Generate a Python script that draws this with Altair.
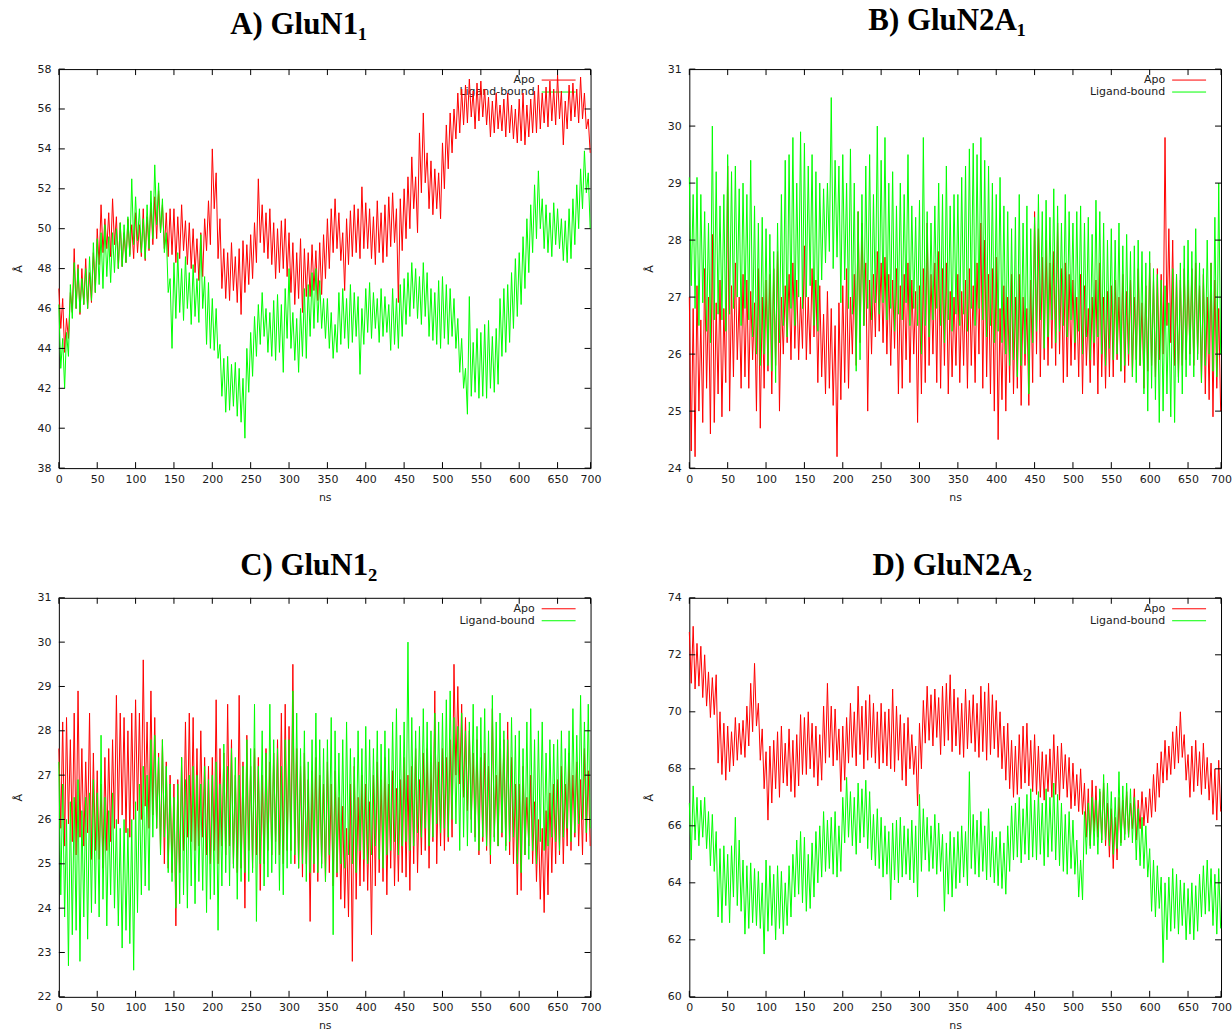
import altair as alt
import pandas as pd

# ---------------- data (hi/lo envelope every 5 ns) -------------
STEP = 5.0
X_END = 693
X_TICKS = [0, 50, 100, 150, 200, 250, 300, 350, 400, 450, 500, 550, 600, 650, 693]
X_LAST_LABEL = "700"

A_TITLE = "A) GluN1\u2081"
B_TITLE = "B) GluN2A\u2081"
C_TITLE = "C) GluN1\u2082"
D_TITLE = "D) GluN2A\u2082"
SERIES = ["Apo", "Ligand-bound"]

A_APO_HI = [47.0, 46.5, 45.5, 46.8, 49.0, 48.2, 48.0, 48.5, 47.8, 48.8,
            50.0, 51.2, 50.5, 50.8, 51.5, 50.6, 50.3, 49.8, 50.5, 50.2,
            50.8, 50.2, 51.0, 50.6, 51.3, 51.6, 51.9, 51.2, 50.8, 51.0,
            51.0, 50.6, 51.2, 50.4, 50.3, 50.0, 49.5, 49.8, 50.5, 51.4,
            54.0, 52.8, 50.5, 49.0, 48.8, 49.3, 48.6, 49.0, 49.4, 49.2,
            49.7, 50.3, 52.5, 51.2, 50.8, 51.0, 50.3, 50.0, 50.4, 50.5,
            49.8, 49.3, 48.8, 49.5, 49.0, 48.8, 49.2, 48.9, 49.3, 49.7,
            50.5, 51.0, 51.5, 50.8, 49.8, 50.5, 50.9, 51.2, 51.0, 52.1,
            51.3, 51.0, 50.6, 51.4, 50.8, 51.2, 51.6, 51.8, 51.0, 51.5,
            52.0, 52.6, 53.6, 52.6, 54.8, 55.8, 53.8, 53.4, 53.0, 52.8,
            54.3, 55.2, 55.8, 56.0, 56.8, 57.0, 57.2, 57.5, 56.9, 57.3,
            57.4, 57.0, 56.6, 56.4, 56.8, 56.2, 56.5, 56.8, 56.2, 56.0,
            56.5, 56.8, 56.2, 56.5, 56.9, 57.2, 56.8, 57.1, 57.4, 57.0,
            57.7, 56.9, 56.4, 57.2, 57.3, 57.0, 57.6, 56.8, 55.5]
A_APO_LO = [45.0, 43.8, 44.5, 45.8, 46.0, 45.7, 46.2, 46.0, 46.3, 46.8,
            48.2, 48.8, 49.0, 48.6, 49.2, 48.0, 48.1, 48.3, 48.7, 48.5,
            48.8, 48.6, 48.4, 48.9, 49.2, 49.5, 49.8, 49.0, 48.6, 48.7,
            48.3, 48.5, 48.9, 48.2, 48.0, 47.8, 47.4, 47.6, 48.9, 49.2,
            51.0, 48.5, 47.0, 46.5, 46.4, 46.9, 46.3, 45.7, 46.8, 47.2,
            47.5, 48.3, 49.3, 48.8, 48.5, 48.2, 47.5, 47.8, 48.0, 47.6,
            46.8, 46.2, 46.5, 45.8, 46.6, 46.6, 46.9, 46.4, 46.7, 47.5,
            48.0, 48.8, 49.0, 48.4, 46.9, 48.2, 48.6, 48.8, 48.5, 49.0,
            49.0, 48.5, 48.2, 48.8, 48.3, 48.6, 49.1, 49.3, 46.3, 48.9,
            49.5, 50.0, 51.0, 49.8, 51.8, 52.3, 51.0, 50.7, 51.0, 50.5,
            52.0, 53.0, 53.8, 54.5, 54.8, 55.2, 55.3, 55.6, 55.0, 55.4,
            55.6, 55.2, 54.6, 54.8, 55.0, 54.9, 54.6, 54.8, 54.5, 54.3,
            54.4, 54.2, 54.6, 54.8, 54.8, 55.0, 55.3, 55.1, 55.4, 55.2,
            55.5, 54.2, 55.0, 55.4, 55.6, 55.3, 55.5, 55.0, 53.8]
A_LIG_HI = [46.2, 44.5, 44.8, 47.2, 48.3, 48.0, 47.5, 48.0, 48.6, 49.3,
            49.5, 49.8, 50.2, 49.6, 49.8, 50.0, 50.3, 50.2, 50.6, 52.5,
            51.6, 51.0, 50.5, 51.2, 51.9, 53.2, 52.3, 51.5, 49.8, 47.5,
            48.3, 48.8, 48.0, 48.6, 47.8, 48.2, 47.5, 49.7, 47.6, 47.3,
            46.5, 46.0, 44.2, 43.5, 43.6, 43.2, 43.3, 43.0, 42.5, 44.0,
            44.8, 45.6, 46.2, 46.8, 46.0, 45.8, 46.4, 46.7, 46.2, 47.0,
            48.0, 45.8, 45.5, 46.0, 47.0, 47.2, 47.8, 48.0, 47.4, 46.5,
            46.5, 45.8, 45.2, 46.8, 47.0, 46.5, 47.2, 46.8, 46.6, 46.0,
            47.0, 47.3, 46.8, 46.5, 47.0, 46.6, 46.2, 47.0, 46.5, 47.2,
            47.5, 47.8, 48.3, 48.0, 47.6, 48.3, 47.8, 47.0, 46.8, 47.4,
            47.6, 47.2, 47.0, 46.5, 45.5, 44.5, 43.0, 46.6, 44.3, 45.0,
            44.8, 45.2, 45.4, 44.6, 45.0, 46.5, 47.0, 47.2, 47.8, 48.5,
            48.8, 49.6, 50.5, 51.2, 52.2, 52.9, 51.5, 51.2, 50.8, 51.3,
            51.0, 50.5, 50.4, 51.0, 51.5, 52.2, 53.0, 53.9, 52.8]
A_LIG_LO = [43.0, 42.0, 43.6, 45.5, 46.0, 45.8, 46.2, 46.0, 46.4, 46.8,
            47.2, 47.0, 47.6, 47.3, 47.8, 48.0, 48.1, 48.3, 48.6, 49.2,
            49.4, 48.8, 48.5, 49.0, 49.5, 50.2, 49.8, 48.8, 46.8, 44.0,
            45.5, 45.8, 45.4, 46.0, 45.2, 45.6, 45.3, 46.0, 44.2, 44.0,
            43.9, 43.5, 41.6, 40.8, 40.9, 41.1, 40.6, 40.3, 39.5, 41.8,
            42.6, 43.6, 44.2, 44.6, 43.8, 43.6, 43.4, 43.8, 42.8, 44.5,
            44.0, 43.4, 42.8, 43.6, 43.5, 44.6, 45.0, 45.3, 45.0, 44.5,
            44.0, 43.5, 43.8, 44.2, 44.5, 44.0, 44.3, 44.6, 42.7, 44.2,
            44.8, 44.5, 45.0, 44.3, 44.6, 44.8, 43.9, 44.2, 44.0, 44.6,
            45.2, 45.6, 46.0, 45.5, 45.2, 45.6, 44.6, 44.4, 44.2, 44.0,
            44.5, 44.2, 44.6, 44.0, 42.8, 42.0, 40.7, 41.6, 41.8, 41.5,
            41.6, 41.5, 42.0, 41.8, 42.2, 43.6, 43.8, 44.3, 45.0, 45.6,
            46.2, 47.0, 47.8, 48.8, 49.5, 50.0, 49.0, 48.8, 48.6, 49.2,
            49.0, 48.4, 48.3, 48.5, 49.2, 50.0, 51.0, 51.8, 50.0]

B_APO_HI = [27.0, 26.8, 27.2, 26.6, 27.5, 27.0, 28.1, 26.9, 27.3, 26.8,
            29.3, 27.2, 27.6, 27.0, 27.4, 27.3, 27.1, 26.9, 27.5, 27.0,
            27.3, 27.4, 27.5, 27.8, 27.0, 27.2, 27.4, 27.6, 27.3, 27.0,
            27.9, 27.0, 27.5, 27.3, 27.2, 26.7, 27.1, 26.8, 26.5, 26.9,
            27.2, 27.5, 27.0, 27.4, 28.5, 28.3, 27.6, 27.3, 27.4, 27.8,
            27.6, 27.7, 27.4, 27.3, 27.5, 27.2, 27.4, 27.6, 27.3, 27.1,
            27.2, 27.5, 28.3, 27.4, 27.6, 27.8, 27.5, 27.6, 27.1, 27.0,
            27.4, 27.1, 27.3, 27.5, 27.2, 27.6, 28.3, 28.0, 27.4, 27.5,
            27.7, 26.8, 27.2, 27.0, 27.4, 27.0, 27.4, 27.0, 26.8, 27.3,
            28.5, 28.2, 27.7, 28.0, 27.6, 27.8, 28.3, 27.5, 27.6, 27.4,
            27.3, 27.0, 27.4, 27.2, 26.8, 27.0, 27.3, 27.6, 27.0, 27.1,
            27.2, 27.3, 27.0, 27.4, 27.1, 27.3, 27.0, 27.5, 26.9, 27.2,
            27.6, 27.3, 27.5, 27.4, 29.8, 28.2, 28.0, 27.4, 27.3, 27.5,
            27.3, 27.5, 27.6, 27.2, 27.4, 27.0, 27.6, 27.3, 26.8]
B_APO_LO = [24.3, 24.2, 25.0, 24.8, 25.4, 24.6, 24.8, 25.3, 24.9, 25.5,
            25.0, 25.6, 25.9, 25.4, 25.6, 25.4, 25.9, 25.0, 24.7, 25.4,
            25.7, 25.3, 25.8, 25.0, 26.0, 26.2, 25.9, 26.1, 25.9, 26.1,
            25.9, 26.0, 26.3, 25.5, 25.6, 25.3, 25.4, 25.1, 24.2, 25.2,
            25.5, 25.4, 26.0, 25.8, 26.2, 26.5, 25.0, 26.0, 26.3, 26.4,
            26.2, 26.0, 25.8, 26.1, 25.3, 25.4, 25.9, 25.5, 26.0, 24.8,
            25.3, 25.5, 25.8, 26.0, 25.5, 25.4, 25.8, 25.3, 25.6, 25.8,
            25.5, 25.8, 25.4, 25.8, 25.5, 26.0, 25.4, 25.6, 25.3, 25.0,
            24.5, 25.2, 25.0, 25.5, 25.3, 25.4, 25.1, 25.8, 25.1, 25.5,
            26.0, 25.6, 25.9, 25.8, 26.1, 25.8, 26.0, 25.5, 25.6, 25.8,
            25.9, 25.6, 25.3, 25.8, 25.5, 25.8, 25.3, 25.6, 25.4, 25.6,
            25.6, 25.9, 25.7, 25.5, 25.8, 25.6, 25.9, 25.8, 25.4, 25.7,
            25.8, 25.6, 25.9, 26.0, 26.5, 26.2, 25.8, 25.6, 25.8, 25.9,
            26.0, 25.8, 26.0, 25.5, 25.3, 25.2, 24.9, 25.4, 25.0]
B_LIG_HI = [29.1, 28.8, 29.1, 28.8, 28.5, 28.3, 30.0, 29.2, 28.6, 28.8,
            29.5, 29.2, 29.3, 28.9, 29.0, 28.8, 29.4, 28.6, 28.3, 28.4,
            28.2, 28.1, 27.8, 28.3, 28.8, 29.4, 29.5, 29.8, 29.0, 29.9,
            29.7, 29.3, 29.5, 29.2, 29.0, 28.9, 29.0, 30.5, 29.4, 29.3,
            29.5, 29.0, 29.6, 29.0, 28.5, 28.8, 29.3, 29.5, 28.8, 30.0,
            29.4, 29.8, 29.0, 29.2, 28.6, 29.0, 28.8, 29.5, 28.6, 28.4,
            28.7, 29.8, 28.5, 28.3, 28.6, 29.0, 28.8, 29.3, 28.6, 28.8,
            28.8, 29.1, 29.3, 29.6, 29.7, 29.5, 29.8, 29.4, 29.3, 29.0,
            28.8, 29.1, 28.6, 28.5, 28.2, 28.4, 28.8, 28.3, 28.6, 28.2,
            28.4, 28.8, 28.5, 28.7, 28.4, 28.9, 28.6, 28.3, 28.8, 28.5,
            28.3, 28.5, 28.6, 28.3, 28.4, 28.1, 28.7, 28.5, 28.3, 28.0,
            28.2, 28.0, 28.3, 27.9, 28.1, 27.8, 27.9, 28.0, 27.8, 27.6,
            27.8, 27.5, 27.4, 27.3, 27.2, 26.9, 27.5, 27.4, 27.6, 27.9,
            28.0, 27.8, 28.2, 27.6, 27.5, 28.0, 27.6, 28.4, 29.0]
B_LIG_LO = [27.2, 26.8, 26.5, 26.9, 26.4, 26.2, 26.6, 26.7, 26.6, 26.4,
            26.7, 26.8, 27.0, 26.5, 26.8, 26.6, 26.3, 26.0, 25.8, 26.0,
            25.8, 25.7, 25.5, 26.2, 26.5, 26.3, 26.8, 26.5, 27.0, 26.8,
            27.0, 27.2, 26.5, 26.4, 27.3, 27.6, 27.8, 27.5, 27.7, 26.9,
            27.3, 26.8, 26.7, 25.7, 25.9, 26.5, 26.8, 26.6, 26.9, 26.7,
            26.9, 26.6, 26.8, 26.4, 26.7, 26.6, 26.9, 26.5, 26.8, 26.5,
            26.0, 26.5, 26.3, 26.6, 26.8, 26.5, 26.2, 26.6, 26.4, 26.7,
            26.5, 26.7, 26.4, 26.8, 26.5, 26.8, 26.6, 26.3, 26.5, 26.2,
            26.4, 26.2, 26.0, 25.8, 25.9, 25.6, 25.8, 26.0, 25.3, 26.2,
            26.4, 26.6, 26.1, 26.3, 26.6, 26.2, 26.4, 26.5, 26.3, 26.6,
            26.2, 26.4, 26.0, 26.3, 25.9, 26.2, 26.3, 26.0, 25.8, 26.1,
            25.9, 26.0, 25.7, 25.8, 26.0, 25.6, 25.5, 25.8, 25.3, 25.0,
            25.4, 25.2, 24.8, 25.0, 25.3, 24.9, 24.8, 25.5, 25.3, 25.6,
            25.8, 25.6, 25.9, 25.5, 25.8, 26.0, 25.7, 25.6, 26.0]

C_APO_HI = [27.6, 28.2, 28.3, 27.8, 28.4, 28.9, 27.6, 27.3, 28.4, 27.5,
            27.1, 26.8, 27.4, 27.6, 27.8, 28.8, 28.4, 28.3, 28.0, 28.4,
            28.7, 28.4, 29.6, 28.2, 28.9, 28.3, 27.5, 27.8, 27.3, 27.0,
            26.8, 26.9, 27.4, 28.2, 28.4, 28.3, 27.6, 28.0, 27.4, 27.2,
            27.4, 28.7, 27.6, 27.5, 28.6, 27.8, 27.0, 28.8, 27.3, 27.9,
            27.2, 27.6, 27.4, 27.0, 27.6, 27.3, 27.5, 27.8, 28.4, 28.6,
            28.1, 29.5, 27.6, 27.2, 27.5, 26.9, 27.1, 27.4, 27.0, 26.8,
            27.3, 26.8, 27.1, 26.5, 26.3, 25.8, 26.8, 27.2, 26.5, 27.0,
            26.8, 26.4, 27.0, 27.3, 26.9, 27.4, 26.8, 27.1, 26.7, 26.9,
            27.4, 27.0, 27.2, 27.6, 26.9, 27.5, 27.6, 27.3, 28.9, 27.3,
            27.6, 27.4, 27.8, 29.5, 29.0, 28.6, 28.3, 28.0, 27.5, 27.8,
            27.4, 27.5, 27.2, 28.5, 27.0, 27.6, 27.8, 28.2, 27.4, 26.8,
            26.8, 27.2, 26.5, 27.0, 26.4, 26.0, 25.8, 26.2, 26.6, 26.8,
            26.9, 27.2, 26.8, 27.5, 27.0, 27.3, 26.9, 27.6, 27.1]
C_APO_LO = [25.8, 25.4, 25.9, 25.5, 25.2, 25.6, 25.4, 25.7, 25.1, 25.3,
            25.1, 24.9, 25.3, 25.5, 25.8, 25.9, 26.1, 25.7, 25.6, 26.0,
            26.2, 26.0, 26.3, 25.8, 26.1, 25.8, 25.3, 25.0, 24.9, 24.8,
            23.6, 24.8, 25.3, 25.6, 25.5, 25.3, 25.4, 25.6, 25.2, 25.0,
            25.3, 25.0, 25.4, 25.2, 25.4, 25.0, 24.8, 24.9, 24.0, 25.3,
            24.9, 25.2, 24.4, 25.0, 25.3, 25.2, 25.5, 25.2, 25.0, 25.3,
            25.3, 25.0, 24.9, 24.7, 25.0, 23.7, 24.8, 24.6, 25.0, 24.6,
            24.8, 24.5, 24.7, 24.2, 24.0, 23.8, 22.8, 24.2, 24.5, 24.6,
            24.4, 23.4, 24.5, 24.8, 24.6, 24.3, 24.9, 24.5, 24.6, 24.8,
            24.7, 24.4, 25.0, 24.8, 25.2, 25.3, 24.9, 25.5, 25.0, 25.4,
            25.3, 25.5, 25.6, 27.0, 26.8, 26.5, 26.2, 26.0, 25.6, 25.2,
            25.5, 25.3, 25.0, 25.6, 25.4, 25.6, 25.4, 25.2, 25.0, 24.3,
            24.4, 25.2, 25.4, 25.0, 24.6, 24.2, 23.9, 24.3, 24.8, 25.0,
            25.2, 25.0, 25.4, 25.3, 25.6, 25.4, 25.2, 25.5, 25.4]
C_LIG_HI = [27.3, 26.8, 26.0, 26.4, 26.5, 26.9, 26.2, 26.5, 26.6, 26.9,
            26.6, 27.9, 26.5, 26.2, 26.6, 26.0, 25.8, 26.0, 25.8, 26.0,
            26.4, 26.8, 27.2, 27.0, 27.8, 27.9, 27.4, 27.8, 27.2, 26.8,
            26.5, 26.8, 27.4, 26.9, 27.0, 27.2, 27.0, 26.8, 27.2, 26.9,
            27.0, 27.3, 26.8, 27.7, 27.2, 27.6, 27.4, 27.0, 27.2, 27.8,
            27.6, 28.6, 27.2, 28.0, 27.5, 28.6, 27.8, 27.6, 27.2, 27.8,
            27.8, 28.9, 28.4, 27.6, 28.0, 27.3, 27.8, 28.4, 27.8, 27.6,
            27.8, 28.3, 28.0, 27.5, 27.8, 28.2, 27.6, 27.4, 28.0, 27.6,
            28.1, 27.8, 27.6, 28.0, 27.7, 28.0, 27.6, 28.2, 28.5, 27.9,
            28.2, 30.0, 28.3, 28.0, 28.1, 28.5, 28.2, 28.0, 28.4, 28.2,
            28.4, 28.7, 28.9, 28.3, 28.1, 28.4, 28.0, 28.2, 28.6, 28.1,
            28.3, 28.5, 28.0, 28.8, 28.2, 28.4, 28.0, 27.8, 28.3, 27.9,
            28.0, 27.6, 28.2, 28.5, 27.8, 28.0, 28.2, 27.5, 27.8, 27.7,
            27.8, 28.0, 27.6, 28.0, 28.5, 27.9, 28.8, 28.2, 28.6]
C_LIG_LO = [24.3, 23.8, 22.7, 23.4, 23.5, 22.8, 23.8, 23.3, 23.9, 24.1,
            23.8, 24.2, 23.6, 24.3, 24.0, 23.6, 23.1, 23.5, 23.2, 22.6,
            23.9, 24.3, 24.5, 24.4, 25.6, 25.8, 25.2, 25.6, 24.8, 24.6,
            24.0, 24.1, 24.3, 24.0, 24.5, 24.1, 24.6, 24.4, 23.9, 24.2,
            24.3, 23.5, 24.5, 24.8, 24.5, 24.9, 24.2, 24.6, 24.8, 24.6,
            24.8, 23.7, 25.0, 24.5, 24.7, 24.8, 25.0, 24.4, 24.3, 24.9,
            25.0, 25.2, 24.9, 25.0, 24.6, 24.8, 25.0, 24.8, 24.9, 24.6,
            25.2, 23.4, 24.8, 25.0, 24.9, 25.2, 25.0, 24.8, 25.3, 25.1,
            25.0, 25.2, 25.4, 25.1, 24.9, 25.2, 25.3, 25.5, 25.2, 25.4,
            25.5, 25.3, 25.4, 25.7, 25.6, 25.8, 25.4, 25.6, 25.9, 25.7,
            25.8, 25.6, 26.0, 25.9, 25.3, 25.6, 25.4, 25.7, 25.5, 25.3,
            25.6, 25.4, 25.2, 25.5, 25.4, 25.7, 25.3, 25.5, 25.6, 25.0,
            24.8, 25.2, 25.1, 25.3, 25.0, 25.5, 25.3, 25.4, 25.6, 25.5,
            25.3, 25.6, 25.8, 25.5, 25.7, 25.9, 26.0, 25.7, 25.8]

D_APO_HI = [72.8, 73.0, 72.4, 72.3, 72.0, 71.4, 71.2, 71.3, 70.0, 69.6,
            69.5, 69.3, 69.8, 69.6, 69.7, 70.2, 71.0, 71.7, 70.3, 69.4,
            68.6, 68.8, 69.0, 69.3, 69.5, 68.9, 69.4, 69.0, 69.2, 69.9,
            69.8, 70.0, 69.6, 69.5, 69.2, 70.2, 71.0, 70.2, 70.1, 69.4,
            69.5, 69.8, 70.3, 70.0, 70.9, 70.2, 70.4, 70.6, 70.3, 70.0,
            70.3, 70.0, 70.1, 70.8, 70.2, 69.9, 69.6, 69.8, 69.2, 68.8,
            69.6, 70.4, 70.9, 70.6, 70.8, 70.5, 70.9, 71.0, 71.3, 70.8,
            70.5, 70.3, 70.8, 70.4, 70.6, 70.3, 70.9, 70.7, 71.0, 70.6,
            70.4, 70.0, 69.5, 69.6, 69.0, 68.8, 69.2, 69.5, 69.6, 69.0,
            69.2, 68.8, 68.6, 68.5, 68.7, 69.2, 68.8, 68.9, 68.5, 68.4,
            68.2, 67.8, 68.0, 67.5, 67.3, 67.6, 67.4, 67.2, 67.5, 66.8,
            66.6, 66.3, 67.0, 66.9, 67.2, 66.8, 67.3, 66.9, 67.2, 67.0,
            67.3, 67.8, 68.2, 68.6, 69.0, 68.8, 69.3, 69.5, 70.0, 69.2,
            68.5, 68.8, 69.0, 68.6, 68.9, 68.4, 68.2, 68.0, 68.3]
D_APO_LO = [71.0, 70.8, 70.9, 70.5, 70.2, 69.8, 69.9, 68.2, 67.8, 67.6,
            67.9, 68.1, 68.3, 68.5, 68.4, 68.8, 69.3, 69.5, 68.3, 67.3,
            66.2, 66.8, 67.3, 67.0, 67.5, 67.4, 67.2, 67.0, 67.4, 67.8,
            67.8, 68.0, 67.7, 67.4, 67.6, 68.2, 68.4, 68.1, 68.3, 67.2,
            67.6, 68.2, 68.4, 68.1, 68.5, 68.0, 68.3, 68.4, 68.2, 68.0,
            68.2, 68.1, 68.0, 67.9, 68.3, 67.6, 67.4, 68.0, 67.8, 66.7,
            68.0, 68.9, 69.0, 68.8, 69.1, 68.5, 68.8, 69.0, 68.6, 68.8,
            68.5, 68.4, 68.7, 68.9, 68.6, 68.4, 68.6, 68.3, 68.5, 68.7,
            68.4, 68.0, 67.6, 67.3, 67.0, 67.1, 67.3, 67.5, 67.4, 67.2,
            67.1, 67.0, 66.9, 67.2, 67.0, 67.1, 66.9, 67.3, 67.0, 66.6,
            66.7, 66.5, 66.4, 65.6, 65.3, 65.8, 65.6, 65.5, 65.3, 64.9,
            64.5, 64.8, 65.4, 65.7, 65.6, 65.9, 65.5, 65.9, 66.0, 66.1,
            66.3, 66.5, 67.0, 67.5, 67.6, 67.8, 68.0, 68.2, 68.4, 67.6,
            67.0, 67.2, 67.4, 67.1, 67.3, 66.9, 66.4, 66.2, 66.5]
D_LIG_HI = [66.8, 67.4, 67.0, 66.9, 67.0, 66.5, 66.4, 65.8, 65.2, 65.3,
            65.0, 65.3, 66.3, 65.5, 64.8, 64.6, 64.7, 64.5, 64.4, 64.0,
            64.8, 64.6, 64.3, 64.6, 64.4, 64.0, 64.6, 65.0, 65.5, 65.8,
            65.6, 65.0, 65.4, 65.8, 66.0, 66.5, 66.2, 66.3, 66.5, 66.0,
            67.0, 67.7, 67.2, 67.0, 67.5, 67.3, 67.6, 67.2, 66.4, 66.6,
            66.3, 66.0, 65.8, 66.1, 66.2, 66.3, 66.0, 65.9, 66.2, 66.0,
            67.1, 66.6, 66.3, 66.0, 66.4, 66.1, 65.7, 65.4, 65.8, 65.6,
            65.8, 66.0, 65.8, 67.9, 66.4, 66.2, 66.5, 66.0, 66.6, 65.8,
            65.6, 65.8, 65.4, 66.0, 66.7, 66.8, 67.0, 66.6, 67.1, 67.3,
            66.9, 67.2, 66.8, 67.3, 67.0, 67.5, 67.1, 66.8, 66.4, 66.5,
            66.2, 65.5, 64.8, 66.5, 66.8, 67.0, 66.9, 67.3, 67.8, 67.5,
            67.2, 67.0, 67.9, 67.4, 67.5, 67.3, 67.0, 66.6, 66.3, 66.0,
            65.2, 64.8, 64.6, 64.2, 64.0, 64.2, 64.5, 64.3, 64.1, 64.0,
            63.8, 64.0, 63.9, 64.3, 64.6, 64.8, 64.5, 64.3, 64.5]
D_LIG_LO = [64.8, 65.5, 65.3, 65.6, 65.2, 64.6, 64.4, 62.8, 62.6, 63.2,
            62.6, 63.5, 63.2, 63.0, 62.2, 62.4, 62.6, 62.5, 62.4, 61.5,
            62.3, 62.5, 62.0, 62.4, 62.2, 62.5, 62.8, 63.5, 63.6, 63.3,
            63.0, 63.1, 63.5, 64.0, 64.2, 64.4, 64.5, 64.3, 64.2, 64.4,
            65.4, 65.6, 65.3, 65.0, 65.4, 65.6, 65.2, 64.8, 64.6, 64.5,
            64.2, 64.3, 63.4, 64.1, 64.0, 64.2, 64.3, 64.1, 64.0, 63.5,
            64.4, 64.8, 64.4, 64.5, 64.3, 64.4, 63.0, 63.6, 63.5, 63.8,
            64.0, 64.2, 63.9, 64.5, 64.3, 64.2, 64.4, 64.1, 64.2, 64.0,
            63.9, 63.8, 63.6, 64.4, 64.8, 64.9, 64.7, 65.0, 64.8, 64.9,
            64.8, 65.0, 64.6, 64.9, 65.1, 64.8, 64.6, 64.4, 64.3, 64.5,
            64.3, 63.5, 63.4, 65.0, 65.2, 65.3, 65.0, 65.4, 65.5, 65.3,
            65.0, 65.2, 65.3, 65.5, 65.6, 65.4, 64.8, 64.6, 64.5, 64.2,
            63.0, 62.8, 63.1, 61.2, 62.0, 62.3, 62.4, 62.2, 62.5, 62.0,
            62.2, 62.0, 62.3, 62.8, 62.9, 63.0, 62.5, 62.2, 62.4]

# ---------------- styling -------------
W, H = 533, 400
RED = "#ff0000"
GREEN = "#00ff00"
TXT = "#1a1a1a"
SANS = "DejaVu Sans"
SERIF = "Liberation Serif"


def frame(hi, lo):
    t, v = [], []
    for i, (h, l) in enumerate(zip(hi, lo)):
        t += [i * STEP, i * STEP + STEP / 2]
        v += [h, l]
    return pd.DataFrame({"t": t, "v": v})


def panel(title, dx, dy, offset, apo_hi, apo_lo, lig_hi, lig_lo, ymin, ymax, ystep):
    yt = list(range(ymin, ymax + 1, ystep))
    xs = alt.Scale(domain=[0, X_END], nice=False, zero=False)
    ys = alt.Scale(domain=[ymin, ymax], nice=False, zero=False)
    xax = alt.Axis(values=X_TICKS,
                   labelExpr=f"datum.value > 680 ? '{X_LAST_LABEL}' : datum.label",
                   title="ns", labelPadding=5, titlePadding=7,
                   labelFlush=False, labelOverlap=False)
    yax = alt.Axis(values=yt, title="\u00c5", labelPadding=8, titlePadding=13,
                   labelOverlap=False)
    X = alt.X("t:Q", scale=xs, axis=xax)
    Y = alt.Y("v:Q", scale=ys, axis=yax)
    one = pd.DataFrame({"k": [0]})

    leg = [
        alt.Chart(one).mark_text(text=SERIES[0], align="right", baseline="middle",
                                 font=SANS, fontSize=11, color=TXT)
        .encode(x=alt.value(W - 56), y=alt.value(11)),
        alt.Chart(one).mark_text(text=SERIES[1], align="right", baseline="middle",
                                 font=SANS, fontSize=11, color=TXT)
        .encode(x=alt.value(W - 56), y=alt.value(23)),
        alt.Chart(one).mark_rule(color=RED, strokeWidth=1)
        .encode(x=alt.value(W - 49), x2=alt.value(W - 15), y=alt.value(11)),
        alt.Chart(one).mark_rule(color=GREEN, strokeWidth=1)
        .encode(x=alt.value(W - 49), x2=alt.value(W - 15), y=alt.value(23)),
    ]
    red = alt.Chart(frame(apo_hi, apo_lo)).mark_line(color=RED, strokeWidth=1).encode(x=X, y=Y)
    green = alt.Chart(frame(lig_hi, lig_lo)).mark_line(color=GREEN, strokeWidth=1).encode(x=X, y=Y)

    ytk = pd.DataFrame({"v": yt})
    xtk = pd.DataFrame({"t": X_TICKS})
    ticks = [
        alt.Chart(ytk).mark_rule(color="black").encode(y=Y, x=alt.value(0), x2=alt.value(6)),
        alt.Chart(ytk).mark_rule(color="black").encode(y=Y, x=alt.value(W - 6), x2=alt.value(W)),
        alt.Chart(xtk).mark_rule(color="black").encode(x=X, y=alt.value(H - 6), y2=alt.value(H)),
        alt.Chart(xtk).mark_rule(color="black").encode(x=X, y=alt.value(0), y2=alt.value(6)),
    ]
    return alt.layer(*leg, red, green, *ticks).properties(
        width=W, height=H,
        title=alt.TitleParams(text=title, font=SERIF, fontSize=31, fontWeight="bold",
                              color="black", anchor="middle", offset=offset, dx=dx, dy=dy),
    )


pa = panel(A_TITLE, -26, 2, 24, A_APO_HI, A_APO_LO, A_LIG_HI, A_LIG_LO, 38, 58, 2)
pb = panel(B_TITLE, -8, -2, 24, B_APO_HI, B_APO_LO, B_LIG_HI, B_LIG_LO, 24, 31, 1)
pc = panel(C_TITLE, -16, 3, 13, C_APO_HI, C_APO_LO, C_LIG_HI, C_LIG_LO, 22, 31, 1)
pd_ = panel(D_TITLE, -3, 3, 13, D_APO_HI, D_APO_LO, D_LIG_HI, D_LIG_LO, 60, 74, 2)

chart = alt.vconcat(
    alt.hconcat(pa, pb, spacing=41),
    alt.hconcat(pc, pd_, spacing=41),
    spacing=46,
).properties(
    padding={"left": 12, "top": 3, "right": 0, "bottom": 0},
    background="white",
).configure_view(
    stroke="black", strokeWidth=1,
).configure_axis(
    domain=False, ticks=False, grid=False,
    labelFont=SANS, labelFontSize=11, labelColor=TXT,
    titleFont=SANS, titleFontSize=11, titleFontWeight="normal", titleColor=TXT,
)

chart.save("out.html", embed_options={"renderer": "svg", "actions": False})
